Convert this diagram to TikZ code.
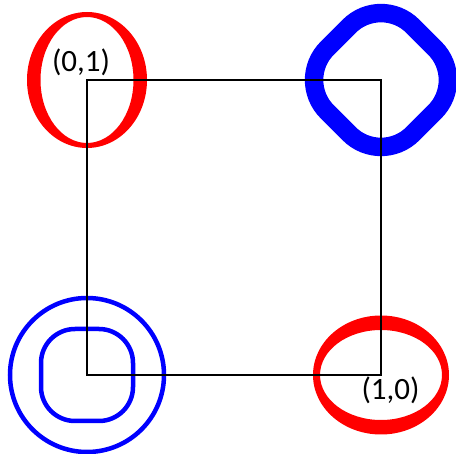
\documentclass[tikz,border=0pt]{standalone}
\usepackage{fontspec}
\setmainfont{Carlito}
\usepackage{tikz}
\definecolor{ringred}{HTML}{FF0000}
\definecolor{ringblue}{HTML}{0000FF}
\newcommand{\penring}[6]{%
  \fill[#1, even odd rule] (#2) ellipse [x radius=#3pt, y radius=#4pt]
    (#2) ellipse [x radius=#5pt, y radius=#6pt];
}
\tikzset{coordlabel/.style={font=\fontsize{31}{35}\selectfont, inner sep=0pt}}

\begin{document}
\begin{tikzpicture}[x=1pt, y=-1pt]
  \useasboundingbox (0,0) rectangle (456,454);

  %% corners of the square
  \coordinate (c00) at (87,375);
  \coordinate (c10) at (381,375);
  \coordinate (c11) at (381,80);
  \coordinate (c01) at (87,80);

  %% red rings at (0,1) and (1,0)
  \penring{ringred}{c01}{60}{68}{46.5}{63}
  \penring{ringred}{c10}{68}{59.5}{61}{45}

  %% thick blue diamond at (1,1)
  \draw[ringblue, line width=18.5pt, rounded corners=45pt, shift={(c11)}, rotate=45]
    (-60.5,-60.5) rectangle (60.5,60.5);

  %% two blue rings at (0,0)
  \draw[ringblue, line width=4.5pt] (c00) circle [radius=77pt];
  \draw[ringblue, line width=4.5pt, rounded corners=34pt, shift={(c00)}]
    (-46,-46) rectangle (46,46);

  %% the square
  \draw[black, line width=2.5pt] (c00) -- (c10) -- (c11) -- (c01) -- cycle;

  \node[coordlabel] (lab01) at (81,62) {(0,1)};
  \node[coordlabel] (lab10) at (390.5,390.5) {(1,0)};

\end{tikzpicture}
\end{document}
